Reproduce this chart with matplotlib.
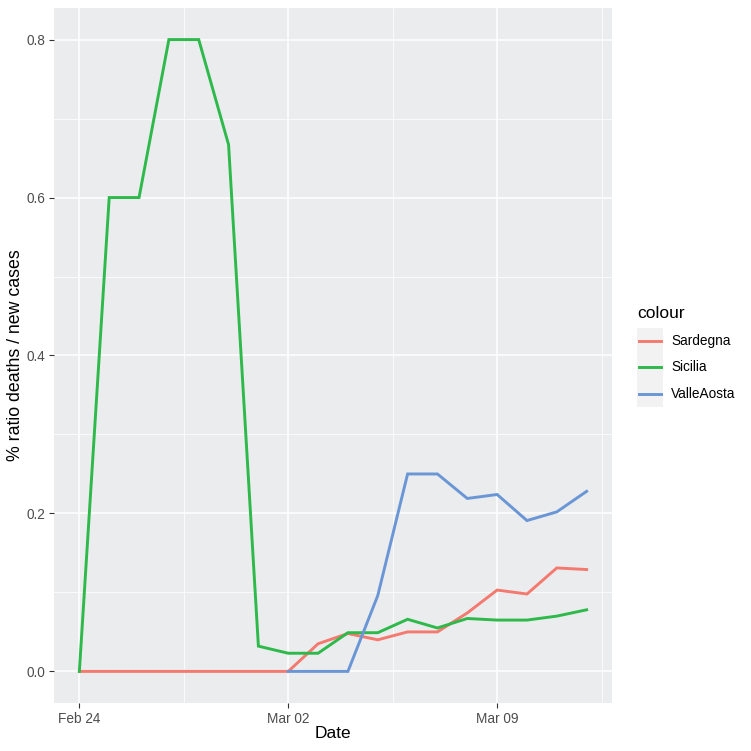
import matplotlib
matplotlib.use("Agg")
import matplotlib.pyplot as plt
import matplotlib.dates as mdates
from matplotlib.lines import Line2D
from matplotlib.patches import Rectangle
import numpy as np
import pandas as pd

plt.rcParams['font.family'] = ['Liberation Sans', 'DejaVu Sans']

dates_all = pd.date_range("2020-02-24", "2020-03-12", freq="D")
sardegna = [0, 0, 0, 0, 0, 0, 0, 0, 0.035, 0.048, 0.040, 0.050, 0.050, 0.074, 0.103, 0.098, 0.131, 0.129]
sicilia = [0, 0.6, 0.6, 0.8, 0.8, 0.667, 0.032, 0.023, 0.023, 0.049, 0.049, 0.066, 0.055, 0.067, 0.065, 0.065, 0.070, 0.078]
valle_dates = pd.date_range("2020-03-02", "2020-03-12", freq="D")
valleaosta = [0, 0, 0, 0.096, 0.25, 0.25, 0.219, 0.224, 0.191, 0.202, 0.228]

series_names = ["Sardegna", "Sicilia", "ValleAosta"]
colors = ["#F47A70", "#2EB94B", "#6A96D6"]

W, H = 751, 751
fig = plt.figure(figsize=(W/100, H/100), dpi=100)
left, right, top, bottom = 54, 612, 8, 703
ax = fig.add_axes([left/W, 1-bottom/H, (right-left)/W, (bottom-top)/H])
ax.set_facecolor("#EBECEE")

lw = 2.1
ax.plot(dates_all, sardegna, color=colors[0], lw=lw, solid_joinstyle='miter')
ax.plot(dates_all, sicilia, color=colors[1], lw=lw, solid_joinstyle='miter')
ax.plot(valle_dates, valleaosta, color=colors[2], lw=lw, solid_joinstyle='miter')

x0 = mdates.date2num(pd.Timestamp("2020-02-24"))
x1 = mdates.date2num(pd.Timestamp("2020-03-12"))
span = x1 - x0
ax.set_xlim(x0 - 0.05*span, x1 + 0.05*span)
ax.set_ylim(-0.04, 0.84)

major_x = [pd.Timestamp(d) for d in ["2020-02-24", "2020-03-02", "2020-03-09"]]
minor_x = [pd.Timestamp(d) for d in ["2020-02-27 12:00", "2020-03-05 12:00", "2020-03-12 12:00"]]
ax.set_xticks([mdates.date2num(d) for d in major_x])
ax.set_xticklabels(["Feb 24", "Mar 02", "Mar 09"])
ax.set_xticks([mdates.date2num(d) for d in minor_x], minor=True)
ax.set_yticks([0, 0.2, 0.4, 0.6, 0.8])
ax.set_yticklabels(["0.0", "0.2", "0.4", "0.6", "0.8"])
ax.set_yticks([0.1, 0.3, 0.5, 0.7], minor=True)

ax.grid(which='major', color='white', lw=1.1)
ax.grid(which='minor', color='white', lw=0.55)
ax.set_axisbelow(True)
for s in ax.spines.values():
    s.set_visible(False)
ax.tick_params(which='major', length=3.5, width=0.8, color='#333333', labelsize=9.8, labelcolor='#4D4D4D', pad=3)
ax.tick_params(which='minor', length=0)

ax.set_xlabel("Date", fontsize=12.5, color='black')
ax.set_ylabel("% ratio deaths / new cases", fontsize=12.8, color='black')
ax.xaxis.label.set_va('center')
ax.yaxis.label.set_va('center')
ax.xaxis.set_label_coords((333-left)/(right-left), -(733-bottom)/(bottom-top))
ax.yaxis.set_label_coords(-(left-16)/(right-left), 0.5)

# legend
fig.text(637/W, 1-313/H, "colour", fontsize=12.5, va='center', ha='left')
keys_y = [341, 367.5, 394]
fig.patches.append(Rectangle((637/W, 1-407/H), 26/W, 79/H, transform=fig.transFigure, facecolor='#F2F2F2', edgecolor='none'))
for name, c, ky in zip(series_names, colors, keys_y):
    fig.lines.append(Line2D([639/W, 661/W], [1-ky/H, 1-ky/H], transform=fig.transFigure, color=c, lw=lw))
    fig.text(671/W, 1-ky/H, name, fontsize=9.8, va='center', ha='left')

fig.savefig("out.png", dpi=100, facecolor='white')
